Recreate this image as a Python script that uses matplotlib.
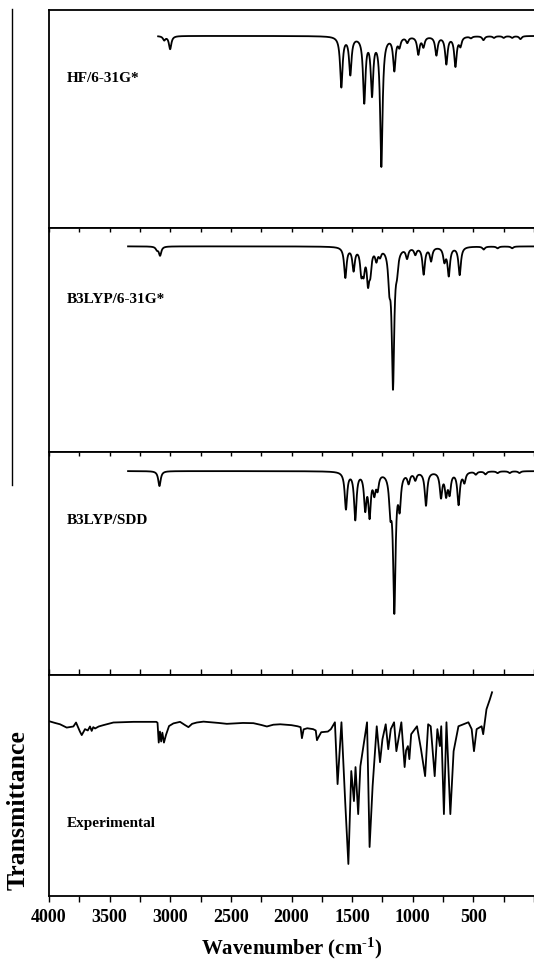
import numpy as np
import matplotlib
matplotlib.use("Agg")
import matplotlib.pyplot as plt
from matplotlib.lines import Line2D
from matplotlib.ticker import MultipleLocator

plt.rcParams['font.family'] = ['Liberation Serif', 'DejaVu Serif']
plt.rcParams['font.weight'] = 'bold'
plt.rcParams['mathtext.fontset'] = 'custom'
plt.rcParams['mathtext.rm'] = 'Liberation Serif:bold'
plt.rcParams['mathtext.bf'] = 'Liberation Serif:bold'
plt.rcParams['mathtext.it'] = 'Liberation Serif:bold'

# computed spectra: band position (cm-1) and depth (% of panel height)
hf_pos = [3050, 3001, 1589, 1515, 1400, 1336, 1259, 1152, 1110, 1045, 954, 912,
          805, 723, 648, 607, 520, 417, 330, 250, 180, 112]
hf_depth = [1.8, 6.0, 23.0, 17.0, 29.5, 25.5, 59.0, 15.0, 4.0, 2.5, 8.0, 4.5,
            8.5, 12.5, 13.5, 4.0, 0.8, 1.8, 0.8, 0.8, 0.8, 1.4]
hf_base = 88.1
hf_start = 3100

b3_pos = [3110, 3084, 1556, 1488, 1424, 1405, 1369, 1350, 1300, 1270, 1193, 1163,
          1130, 1047, 979, 910, 849, 739, 703, 613, 415, 300, 180]
b3_depth = [1.3, 4.0, 13.5, 10.0, 10.0, 9.0, 14.0, 9.0, 5.0, 3.0, 13.5, 61.0,
            7.0, 4.5, 3.0, 12.0, 6.0, 6.0, 12.5, 12.5, 1.3, 0.8, 0.8]
b3_base = 91.8
b3_start = 3348

sdd_pos = [3089, 1551, 1474, 1392, 1356, 1317, 1290, 1185, 1152, 1108, 1034, 979,
           891, 767, 725, 696, 622, 574, 480, 400, 300, 200, 120]
sdd_depth = [6.7, 16.5, 21.0, 15.5, 18.5, 8.0, 6.5, 14.5, 61.0, 14.0, 4.5, 3.3,
             15.0, 11.0, 9.5, 9.0, 14.5, 4.5, 1.3, 1.3, 0.8, 0.8, 0.8]
sdd_base = 91.5
sdd_start = 3348

# experimental spectrum, traced (cm-1, % of panel height)
exp_wn = [4000, 3950, 3909, 3854, 3799, 3777, 3745, 3730, 3703, 3680, 3662, 3648,
          3635, 3620, 3590, 3552, 3469, 3304, 3115, 3105, 3095, 3085, 3075, 3065,
          3052, 3035, 3010, 2974, 2919, 2880, 2850, 2820, 2781, 2726, 2600, 2533,
          2400, 2314, 2250, 2203, 2150, 2093, 2000, 1950, 1925, 1914, 1900, 1870,
          1822, 1800, 1790, 1782, 1755, 1700, 1675, 1642, 1620, 1588, 1557, 1531,
          1507, 1485, 1472, 1450, 1432, 1377, 1356, 1331, 1297, 1270, 1250, 1223,
          1202, 1181, 1154, 1135, 1094, 1067, 1055, 1040, 1028, 1013, 965, 932,
          898, 873, 852, 819, 797, 776, 765, 743, 722, 690, 663, 623, 541,
          514, 495, 473, 432, 419, 392, 364, 346]
exp_t = [79.2, 78.4, 77.8, 76.3, 76.8, 78.6, 74.5, 72.9, 75.6, 75.0, 76.8, 74.8,
         76.5, 75.9, 76.8, 77.4, 78.6, 78.9, 78.9, 78.5, 69.5, 74.5, 70.0, 74.0,
         69.5, 73.0, 77.0, 78.2, 78.9, 77.5, 76.5, 78.0, 78.6, 79.0, 78.4, 78.0,
         78.4, 78.3, 77.5, 76.8, 77.6, 77.8, 77.4, 76.9, 76.5, 71.5, 75.5, 76.0,
         75.6, 75.0, 70.6, 71.5, 74.2, 74.5, 75.6, 78.7, 50.7, 78.7, 42.5, 14.5,
         56.6, 43.0, 58.4, 37.1, 58.8, 78.7, 22.2, 49.8, 76.9, 60.6, 71.0, 77.8,
         66.5, 75.6, 78.7, 65.6, 78.7, 58.4, 66.0, 67.9, 62.0, 73.3, 76.9, 66.5,
         54.3, 77.8, 76.9, 54.3, 75.6, 67.9, 76.9, 37.1, 78.7, 37.1, 65.6, 76.9, 78.7,
         75.6, 65.6, 75.6, 76.9, 73.3, 84.6, 89.1, 92.3]

labels = ['HF/6-31G*', 'B3LYP/6-31G*', 'B3LYP/SDD', 'Experimental']
label_y = [0.69, 0.685, 0.70, 0.335]

gamma = 12.0


def lorentz_spectrum(pos, depth, base, start):
    wn = np.arange(start, -1, -1.0)
    t = np.full_like(wn, base)
    for p, d in zip(pos, depth):
        t -= d * gamma ** 2 / ((wn - p) ** 2 + gamma ** 2)
    return wn, t


fig = plt.figure(figsize=(5.34, 9.62), dpi=100)

# panel rows in figure fraction (bottom, height)
rows = [(0.762, 0.2266), (0.529, 0.233), (0.297, 0.232), (0.0676, 0.2294)]
left = 49 / 534
width = 1 - left

spectra = [lorentz_spectrum(hf_pos, hf_depth, hf_base, hf_start),
           lorentz_spectrum(b3_pos, b3_depth, b3_base, b3_start),
           lorentz_spectrum(sdd_pos, sdd_depth, sdd_base, sdd_start),
           (np.array(exp_wn), np.array(exp_t))]

axes = []
for i, (b, h) in enumerate(rows):
    ax = fig.add_axes([left, b, width, h])
    wn, t = spectra[i]
    ax.plot(wn, t, color='black', lw=1.3)
    ax.set_xlim(4000, 0)
    ax.set_ylim(0, 100)
    ax.set_yticks([])
    ax.spines['right'].set_visible(False)
    for s in ['left', 'top', 'bottom']:
        ax.spines[s].set_linewidth(1.3)
    ax.text(0.037, label_y[i], labels[i], transform=ax.transAxes,
            fontsize=11, fontweight='bold', va='center', ha='left')
    ax.xaxis.set_major_locator(MultipleLocator(500))
    ax.xaxis.set_minor_locator(MultipleLocator(250))
    if i == 0:
        ax.tick_params(axis='x', which='both', top=False, bottom=False,
                       labelbottom=False)
    else:
        ax.tick_params(axis='x', which='both', top=True, bottom=False,
                       direction='in', length=3, width=1, labelbottom=False)
    axes.append(ax)

# bottom axis ticks and labels
axb = axes[3]
axb.tick_params(axis='x', which='both', bottom=True, direction='out',
                length=4, width=1, labelbottom=True, labelsize=13, pad=5)
axb.set_xticks([4000, 3500, 3000, 2500, 2000, 1500, 1000, 500])
for lab in axb.get_xticklabels():
    lab.set_fontweight('bold')
axb.set_xlabel(r'Wavenumber (cm$^{\text{-1}}$)', fontsize=15,
               fontweight='bold', labelpad=7)

fig.text(0.034, 0.158, 'Transmittance', rotation=90, fontsize=18.5,
         fontweight='bold', ha='center', va='center')

# stray vertical rule at the left edge
fig.add_artist(Line2D([12 / 534, 12 / 534], [1 - 10 / 962, 1 - 486 / 962],
                      color='black', lw=1.0))

fig.savefig('out.png', dpi=100)
